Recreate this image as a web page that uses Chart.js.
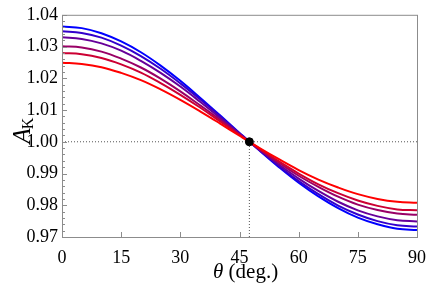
<!DOCTYPE html>
<html>
<head>
<meta charset="utf-8">
<script src="https://cdn.jsdelivr.net/npm/chart.js@4.4.1/dist/chart.umd.min.js"></script>
<style>
  html, body { margin: 0; padding: 0; background: #fff; }
</style>
</head>
<body>
<canvas id="chart" width="436" height="291"></canvas>
<script>
// === data ===
const theta = [0, 5, 10, 15, 20, 25, 30, 35, 40, 45, 50, 55, 60, 65, 70, 75, 80, 85, 90];
const curve1 = [1.0363, 1.0358, 1.0342, 1.0316, 1.0282, 1.0240, 1.0192, 1.0139, 1.0084, 1.0028, 0.9973, 0.9920, 0.9871, 0.9828, 0.9791, 0.9761, 0.9740, 0.9726, 0.9722];
const curve2 = [1.0348, 1.0343, 1.0328, 1.0303, 1.0270, 1.0230, 1.0184, 1.0134, 1.0081, 1.0027, 0.9974, 0.9923, 0.9876, 0.9835, 0.9799, 0.9771, 0.9750, 0.9737, 0.9733];
const curve3 = [1.0329, 1.0324, 1.0310, 1.0287, 1.0255, 1.0217, 1.0174, 1.0126, 1.0076, 1.0025, 0.9975, 0.9928, 0.9884, 0.9845, 0.9811, 0.9784, 0.9765, 0.9753, 0.9749];
const curve4 = [1.0301, 1.0297, 1.0284, 1.0262, 1.0234, 1.0199, 1.0159, 1.0115, 1.0070, 1.0023, 0.9977, 0.9934, 0.9893, 0.9858, 0.9827, 0.9802, 0.9785, 0.9774, 0.9770];
const curve5 = [1.0280, 1.0276, 1.0264, 1.0244, 1.0218, 1.0185, 1.0148, 1.0108, 1.0065, 1.0022, 0.9979, 0.9938, 0.9900, 0.9866, 0.9838, 0.9815, 0.9798, 0.9787, 0.9784];
const curve6 = [1.0249, 1.0245, 1.0235, 1.0217, 1.0194, 1.0165, 1.0132, 1.0096, 1.0058, 1.0019, 0.9981, 0.9945, 0.9911, 0.9881, 0.9856, 0.9835, 0.9820, 0.9811, 0.9808];
const curves = [curve1, curve2, curve3, curve4, curve5, curve6];
const colors = ["#0000ff", "#3300cc", "#660099", "#990066", "#cc0033", "#ff0000"];

const crossTheta = 47.5;
const crossA = 1.0;
const xTicks = [0, 15, 30, 45, 60, 75, 90];
const yMin = 0.97, yMax = 1.04;

const serif = "Liberation Serif";
const frameColor = "#8c8c8c";
Chart.defaults.font.family = serif;

// === datasets ===
const datasets = curves.map((vals, i) => ({
  data: theta.map((t, j) => ({ x: t, y: vals[j] })),
  showLine: true,
  borderColor: colors[i],
  borderWidth: 2,
  pointRadius: 0,
  tension: 0.4,
  order: 10 - i,
}));

// dotted guide lines + crossing point
datasets.push({
  data: [{ x: 0, y: crossA }, { x: 90, y: crossA }],
  showLine: true,
  borderColor: "#555",
  borderWidth: 1,
  borderDash: [1, 2],
  pointRadius: 0,
  order: 20,
});
datasets.push({
  data: [{ x: crossTheta, y: yMin }, { x: crossTheta, y: crossA }],
  showLine: true,
  borderColor: "#555",
  borderWidth: 1,
  borderDash: [1, 2],
  pointRadius: 0,
  order: 20,
});
datasets.push({
  data: [{ x: crossTheta, y: crossA }],
  showLine: false,
  pointRadius: 4,
  pointBackgroundColor: "#000",
  pointBorderColor: "#000",
  order: 0,
});

// === frame, inward ticks, axis titles ===
const framePlugin = {
  id: "frame",
  afterDraw(chart) {
    const { ctx, chartArea: a, scales } = chart;
    const xs = scales.x, ys = scales.y;
    ctx.save();
    ctx.strokeStyle = frameColor;
    ctx.lineWidth = 1;
    ctx.strokeRect(a.left + 0.5, a.top + 0.5, a.right - a.left, a.bottom - a.top);

    ctx.beginPath();
    // y ticks (major + minor)
    for (let k = 0; k <= 35; k++) {
      const v = yMin + k * 0.002;
      const py = Math.round(ys.getPixelForValue(v)) + 0.5;
      const len = k % 5 === 0 ? 5 : 3;
      ctx.moveTo(a.left, py);
      ctx.lineTo(a.left + len, py);
    }
    // x ticks
    xTicks.forEach(t => {
      const px = Math.round(xs.getPixelForValue(t)) + 0.5;
      ctx.moveTo(px, a.bottom);
      ctx.lineTo(px, a.bottom - 5);
    });
    ctx.stroke();

    // x title: θ (deg.)
    ctx.fillStyle = "#000";
    ctx.textBaseline = "alphabetic";
    ctx.font = "italic 21px '" + serif + "'";
    const w1 = ctx.measureText("θ").width;
    ctx.fillText("θ", 213, 278);
    ctx.font = "21px '" + serif + "'";
    ctx.fillText(" (deg.)", 213 + w1, 278);

    // y title: A_K
    ctx.translate(30, 130);
    ctx.rotate(-Math.PI / 2);
    ctx.font = "italic 25px '" + serif + "'";
    const wa = ctx.measureText("A").width;
    ctx.font = "16px '" + serif + "'";
    const wk = ctx.measureText("K").width;
    const ax = -(wa + wk) / 2;
    ctx.font = "italic 25px '" + serif + "'";
    ctx.fillText("A", ax, 0);
    ctx.font = "16px '" + serif + "'";
    ctx.fillText("K", ax + wa - 1, 3);
    ctx.restore();
  },
};

new Chart(document.getElementById("chart"), {
  type: "scatter",
  data: { datasets },
  options: {
    responsive: false,
    animation: false,
    layout: { padding: { top: 13, right: 12, left: 0, bottom: 0 } },
    plugins: { legend: { display: false }, tooltip: { enabled: false } },
    elements: { line: { fill: false } },
    scales: {
      x: {
        type: "linear",
        min: 0,
        max: 90,
        afterBuildTicks: s => { s.ticks = xTicks.map(v => ({ value: v })); },
        ticks: { color: "#000", font: { family: serif, size: 18 }, padding: 10, maxRotation: 0 },
        grid: { display: false, drawTicks: false },
        border: { display: false },
        afterFit: s => { s.height = 54; },
      },
      y: {
        type: "linear",
        min: yMin,
        max: yMax,
        ticks: {
          stepSize: 0.01,
          color: "#000",
          font: { family: serif, size: 18 },
          padding: 4,
          callback: v => v.toFixed(2),
        },
        grid: { display: false, drawTicks: false },
        border: { display: false },
        afterFit: s => { s.width = 62; },
      },
    },
  },
  plugins: [framePlugin],
});
</script>
</body>
</html>
